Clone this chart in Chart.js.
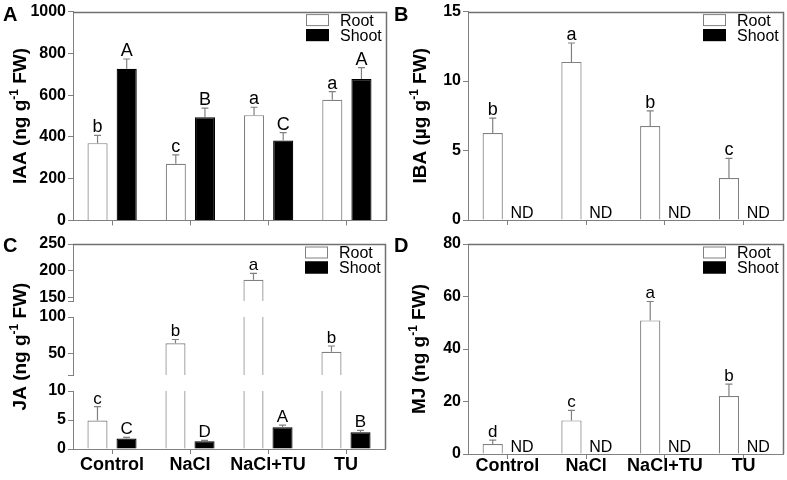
<!DOCTYPE html>
<html>
<head>
<meta charset="utf-8">
<script src="https://cdn.jsdelivr.net/npm/chart.js@4.4.1/dist/chart.umd.min.js"></script>
<style>
    body { margin: 0; background: #fff; }
    #fig { position: relative; width: 787px; height: 480px; }
    .panel { position: absolute; }
    .panel canvas { position: absolute; left: 0; top: 0; }
</style>
</head>
<body>
<div id="fig">
    <div class="panel" style="left:0;top:0;"><canvas id="chartA" width="393" height="232"></canvas></div>
    <div class="panel" style="left:393px;top:0;"><canvas id="chartB" width="394" height="232"></canvas></div>
    <div class="panel" style="left:0;top:232px;">
        <canvas id="chartCLow" width="393" height="248"></canvas>
        <canvas id="chartCMid" width="393" height="248"></canvas>
        <canvas id="chartCTop" width="393" height="248"></canvas>
    </div>
    <div class="panel" style="left:393px;top:232px;"><canvas id="chartD" width="394" height="248"></canvas></div>
</div>
<script>
// Data

const groups = ['Control', 'NaCl', 'NaCl+TU', 'TU'];

// A - IAA (ng/g FW)
const iaaRoot = [370, 271, 504, 578];
const iaaRootErr = [37, 43, 38, 39];
const iaaRootLetters = ['b', 'c', 'a', 'a'];
const iaaShoot = [726, 494, 383, 677];
const iaaShootErr = [47, 44, 37, 55];
const iaaShootLetters = ['A', 'B', 'C', 'A'];
const iaaTicks = [0, 200, 400, 600, 800, 1000];

// B - IBA (ug/g FW), shoot not detected
const ibaRoot = [6.26, 11.38, 6.76, 3.02];
const ibaRootErr = [1.07, 1.36, 1.1, 1.41];
const ibaRootLetters = ['b', 'a', 'b', 'c'];
const ibaShoot = [null, null, null, null];
const ibaShootLetters = ['ND', 'ND', 'ND', 'ND'];
const ibaTicks = [0, 5, 10, 15];

// C - JA (ng/g FW), broken axis
const jaRoot = [4.9, 63.8, 183, 52];
const jaRootErr = [2.4, 5.2, 12, 8];
const jaRootLetters = ['c', 'b', 'a', 'b'];
const jaShoot = [1.8, 1.35, 3.75, 2.9];
const jaShootErr = [0.2, 0.15, 0.35, 0.3];
const jaShootLetters = ['C', 'D', 'A', 'B'];
const jaTopRange = [143, 250];
const jaTopTicks = [150, 200, 250];
const jaMidRange = [20, 100];
const jaMidTicks = [50, 100];
const jaLowRange = [0, 10];
const jaLowTicks = [0, 5, 10];

// D - MJ (ng/g FW), shoot not detected
const mjRoot = [3.8, 12.8, 50.9, 22.1];
const mjRootErr = [1.5, 3.8, 7.2, 4.5];
const mjRootLetters = ['d', 'c', 'a', 'b'];
const mjShoot = [null, null, null, null];
const mjShootLetters = ['ND', 'ND', 'ND', 'ND'];
const mjTicks = [0, 20, 40, 60, 80];

const FONT = "'Liberation Sans', Arial, sans-serif";
const GRAY = '#808080';

Chart.defaults.font.family = FONT;
Chart.defaults.color = '#000';

// top and right edge of the plot box
function drawBox(chart, o) {
    if (!o.box) return;
    const ctx = chart.ctx;
    const a = chart.chartArea;
    const r = Math.round(a.right) + 0.5;
    const t = Math.round(a.top) + 0.5;
    const b = o.boxBottom != null ? o.boxBottom : a.bottom;
    ctx.save();
    ctx.strokeStyle = '#707070';
    ctx.lineWidth = 1.5;
    ctx.beginPath();
    ctx.moveTo(Math.round(a.left), t);
    ctx.lineTo(r, t);
    ctx.lineTo(r, b);
    ctx.stroke();
    ctx.restore();
}

// error bars, letters, legend, titles
function drawDecor(chart, o) {
    const ctx = chart.ctx;
    const a = chart.chartArea;
    const ys = chart.scales.y;
    ctx.save();

    chart.data.datasets.forEach((ds, di) => {
        chart.getDatasetMeta(di).data.forEach((bar, i) => {
            const v = ds.data[i];
            const label = ds.letters[i];
            ctx.fillStyle = '#000';
            ctx.textAlign = 'center';
            ctx.textBaseline = 'alphabetic';
            if (v == null) {
                ctx.font = '16px ' + FONT;
                ctx.fillText(label, bar.x, a.bottom - 2);
                return;
            }
            const top = v + ds.errors[i];
            const y0 = ys.getPixelForValue(v);
            const y1 = ys.getPixelForValue(top);
            ctx.save();
            ctx.beginPath();
            ctx.rect(a.left, a.top - 1, a.right - a.left, a.bottom - a.top + 1);
            ctx.clip();
            ctx.strokeStyle = GRAY;
            ctx.lineWidth = 1.2;
            ctx.beginPath();
            ctx.moveTo(bar.x, y0);
            ctx.lineTo(bar.x, y1);
            ctx.moveTo(bar.x - 3.5, y1);
            ctx.lineTo(bar.x + 3.5, y1);
            ctx.stroke();
            ctx.restore();
            if (top >= ys.min && top <= ys.max) {
                ctx.font = o.letterSize + 'px ' + FONT;
                ctx.fillText(label, bar.x, y1 - 3);
            }
        });
    });

    if (o.legend) {
        ctx.font = '16px ' + FONT;
        ctx.textAlign = 'left';
        ctx.textBaseline = 'middle';
        ctx.lineWidth = 1;
        chart.data.datasets.forEach((ds, di) => {
            const cy = a.top + 8.5 + di * 15;
            const bx = Math.round(a.right - 80);
            ctx.fillStyle = ds.backgroundColor;
            ctx.fillRect(bx, cy - 6, 23, 12);
            ctx.strokeStyle = ds.borderColor;
            ctx.strokeRect(bx + 0.5, cy - 5.5, 22, 11);
            ctx.fillStyle = '#000';
            ctx.fillText(ds.label, a.right - 46, cy + 1);
        });
    }

    if (o.panel) {
        ctx.font = 'bold 20px ' + FONT;
        ctx.textAlign = 'left';
        ctx.textBaseline = 'alphabetic';
        ctx.fillStyle = '#000';
        ctx.fillText(o.panel.text, o.panel.x, o.panel.y);
    }

    if (o.title) {
        const t = o.title;
        const cy = t.center != null ? t.center : (a.top + a.bottom) / 2;
        const big = 'bold 19px ' + FONT;
        const small = 'bold 12px ' + FONT;
        ctx.translate(t.x, cy);
        ctx.rotate(-Math.PI / 2);
        ctx.fillStyle = '#000';
        ctx.textAlign = 'left';
        ctx.textBaseline = 'middle';
        ctx.font = big;
        const w1 = ctx.measureText(t.text[0]).width;
        const w3 = ctx.measureText(t.text[2]).width;
        ctx.font = small;
        const w2 = ctx.measureText(t.text[1]).width;
        let x = -(w1 + w2 + w3) / 2;
        ctx.font = big;
        ctx.fillText(t.text[0], x, 0);
        x += w1;
        ctx.font = small;
        ctx.fillText(t.text[1], x, -6);
        x += w2;
        ctx.font = big;
        ctx.fillText(t.text[2], x, 0);
    }
    ctx.restore();
}

function pair(root, rootErr, rootLetters, shoot, shootErr, shootLetters) {
    const common = { borderWidth: 1.2, barPercentage: 0.69, categoryPercentage: 0.745, clip: 0 };
    return [
        Object.assign({ label: 'Root', data: root, errors: rootErr, letters: rootLetters,
            backgroundColor: '#ffffff', borderColor: GRAY }, common),
        Object.assign({ label: 'Shoot', data: shoot, errors: shootErr || [], letters: shootLetters,
            backgroundColor: '#000000', borderColor: '#000000' }, common)
    ];
}

function yScale(range, ticks, width) {
    return {
        type: 'linear',
        min: range[0],
        max: range[1],
        afterFit: s => { s.width = width; },
        afterBuildTicks: s => {
            const vals = ticks.includes(range[0]) ? ticks : [range[0]].concat(ticks);
            s.ticks = vals.map(v => ({ value: v }));
        },
        ticks: {
            font: { size: 16, weight: 'bold' },
            color: '#000',
            padding: 2,
            autoSkip: false,
            callback: v => ticks.includes(v) ? v : ''
        },
        border: { display: true, color: GRAY, width: 1 },
        grid: { display: true, drawOnChartArea: false, drawTicks: true, tickLength: 5, color: GRAY }
    };
}

function xScale(show, labels, height, padding) {
    return {
        type: 'category',
        display: show,
        offset: true,
        afterFit: s => { s.height = height; },
        ticks: { display: labels, font: { size: 18, weight: 'bold' }, color: '#000',
            padding: padding || 0, maxRotation: 0, autoSkip: false },
        border: { display: true, color: GRAY, width: 1 },
        grid: { display: true, offset: false, drawOnChartArea: false, tickLength: 5, color: GRAY }
    };
}

function makeChart(id, datasets, y, x, padding, decorOpts) {
    return new Chart(document.getElementById(id), {
        type: 'bar',
        data: { labels: groups, datasets: datasets },
        options: {
            responsive: false,
            animation: false,
            events: [],
            layout: { padding: padding },
            scales: { x: x, y: y },
            plugins: {
                legend: { display: false },
                tooltip: { enabled: false }
            }
        },
        plugins: [
            { id: 'decor', afterDraw: chart => drawDecor(chart, decorOpts) },
            { id: 'plotBox', afterDraw: chart => drawBox(chart, decorOpts) }
        ]
    });
}

// Panel A
makeChart('chartA',
    pair(iaaRoot, iaaRootErr, iaaRootLetters, iaaShoot, iaaShootErr, iaaShootLetters),
    yScale([0, 1000], iaaTicks, 73),
    xScale(true, false, 10),
    { top: 10, right: 7, left: 0, bottom: 0 },
    { box: true, legend: true, letterSize: 18,
      panel: { text: 'A', x: 3, y: 21 },
      title: { x: 21, text: ['IAA (ng g', '-1', ' FW)'] } });

// Panel B
makeChart('chartB',
    pair(ibaRoot, ibaRootErr, ibaRootLetters, ibaShoot, null, ibaShootLetters),
    yScale([0, 15], ibaTicks, 75),
    xScale(true, false, 12),
    { top: 10, right: 4, left: 0, bottom: 0 },
    { box: true, legend: true, letterSize: 18,
      panel: { text: 'B', x: 1, y: 21 },
      title: { x: 28, text: ['IBA (\u00b5g g', '-1', ' FW)'] } });

// Panel C - three stacked segments of one broken axis
const cSeg = { top: [12, 69], mid: [85, 143], low: [159, 217] };
const cData = () => pair(jaRoot, jaRootErr, jaRootLetters, jaShoot, jaShootErr, jaShootLetters);

makeChart('chartCTop', cData(),
    yScale(jaTopRange, jaTopTicks, 73),
    xScale(false, false, 0),
    { top: cSeg.top[0], bottom: 248 - cSeg.top[1], right: 8, left: 0 },
    { box: true, boxBottom: cSeg.low[1], legend: true, letterSize: 17,
      panel: { text: 'C', x: 3, y: 20 } });

makeChart('chartCMid', cData(),
    yScale(jaMidRange, jaMidTicks, 73),
    xScale(false, false, 0),
    { top: cSeg.mid[0], bottom: 248 - cSeg.mid[1], right: 8, left: 0 },
    { letterSize: 17 });

makeChart('chartCLow', cData(),
    yScale(jaLowRange, jaLowTicks, 73),
    xScale(true, true, 248 - cSeg.low[1], 0),
    { top: cSeg.low[0], bottom: 0, right: 8, left: 0 },
    { letterSize: 17,
      title: { x: 21, center: (cSeg.top[0] + cSeg.low[1]) / 2, text: ['JA (ng g', '-1', ' FW)'] } });

// Panel D
makeChart('chartD',
    pair(mjRoot, mjRootErr, mjRootLetters, mjShoot, null, mjShootLetters),
    yScale([0, 80], mjTicks, 75),
    xScale(true, true, 26, -4),
    { top: 12, right: 4, left: 0, bottom: 0 },
    { box: true, legend: true, letterSize: 17,
      panel: { text: 'D', x: 1, y: 20 },
      title: { x: 27, text: ['MJ (ng g', '-1', ' FW)'] } });
</script>
</body>
</html>
